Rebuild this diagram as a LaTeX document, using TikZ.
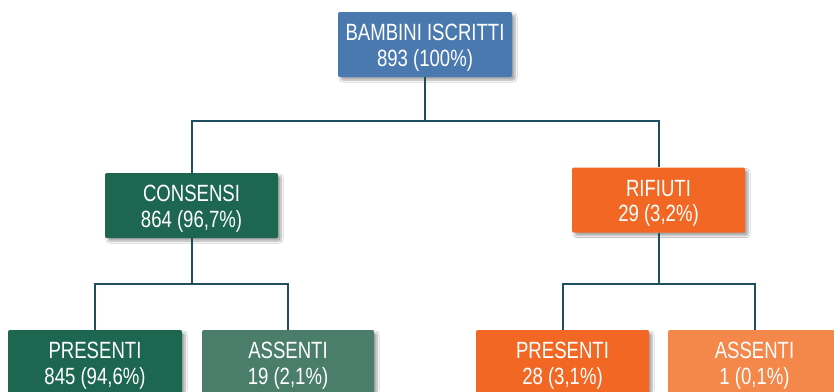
\documentclass[tikz,border=0pt]{standalone}
\usepackage{fontspec}
\setmainfont[FakeStretch=0.79]{Liberation Sans}
\usetikzlibrary{shadows.blur}
\definecolor{cblue}{HTML}{4A79B0}
\definecolor{cgreen}{HTML}{1D6650}
\definecolor{cgreenl}{HTML}{4A7D6A}
\definecolor{corange}{HTML}{F26724}
\definecolor{corangel}{HTML}{F4874A}
\definecolor{cline}{HTML}{1F4E61}
\newcommand\boxtext[2]{\raisebox{-4pt}[\height][\depth]{\begin{tabular}{@{}c@{}}#1\\#2\end{tabular}}}
\tikzset{
  box/.style={rectangle, rounded corners=2pt, minimum width=173pt, minimum height=65pt,
    text=white, font=\fontsize{23.5}{25.5}\selectfont, inner sep=0pt,
    blur shadow={shadow xshift=3pt, shadow yshift=-3pt, shadow blur steps=6, shadow opacity=35}},
  conn/.style={draw=cline, line width=2pt}
}
\begin{document}
\begin{tikzpicture}[x=1pt,y=-1pt]
\useasboundingbox[fill=white] (0,0) rectangle (834,391);
\coordinate (j1) at (425,121);
\coordinate (j2) at (191.5,284);
\coordinate (j3) at (658.5,284);
\node[box, fill=cblue, minimum width=174pt] (top) at (425,44.5) {\boxtext{BAMBINI ISCRITTI}{893 (100\%)}};
\node[box, fill=cgreen] (cons) at (191.5,205.5) {\boxtext{CONSENSI}{864 (96,7\%)}};
\node[box, fill=corange] (rif) at (658.5,200) {\boxtext{RIFIUTI}{29 (3,2\%)}};
\node[box, fill=cgreen, minimum width=174pt] (pl) at (95,362.5) {\boxtext{PRESENTI}{845 (94,6\%)}};
\node[box, fill=cgreenl, minimum width=172pt] (al) at (288,362.5) {\boxtext{ASSENTI}{19 (2,1\%)}};
\node[box, fill=corange] (pr) at (562.5,362.5) {\boxtext{PRESENTI}{28 (3,1\%)}};
\node[box, fill=corangel] (ar) at (754.5,362.5) {\boxtext{ASSENTI}{1 (0,1\%)}};
\draw[conn] (top.south) -- (j1) -| (cons.north);
\draw[conn] (j1) -| (rif.north);
\draw[conn] (cons.south) -- (j2) -| (pl.north);
\draw[conn] (j2) -| (al.north);
\draw[conn] (rif.south) -- (j3) -| (pr.north);
\draw[conn] (j3) -| (ar.north);
\end{tikzpicture}
\end{document}
